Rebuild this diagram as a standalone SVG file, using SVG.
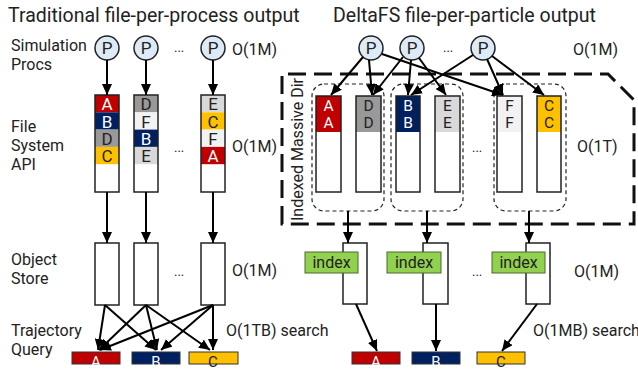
<svg xmlns="http://www.w3.org/2000/svg" width="638" height="370" viewBox="0 0 638 370">
<defs>
<marker id="ah" markerUnits="userSpaceOnUse" markerWidth="11" markerHeight="10" refX="11" refY="5" orient="auto"><path d="M0,0 L11,5 L0,10 z" fill="#000"/></marker>
<style>
text{font-family:Roboto,"Liberation Sans",sans-serif;fill:#222}
.t{font-size:19.5px}
.l{font-size:16px}
.c{font-size:17px;text-anchor:middle}
.c2{font-size:15.5px;text-anchor:middle}
.w{fill:#fff}
.p{fill:#DEEBF7;stroke:#222;stroke-width:1.5}
.col{fill:#fff;stroke:#222;stroke-width:1.5}
.cl{fill:none;stroke:#222;stroke-width:1.5}
.ar{stroke:#000;stroke-width:2;fill:none;marker-end:url(#ah)}
.grp{fill:none;stroke:#222;stroke-width:1.2;stroke-dasharray:4 3}
.idx{fill:#92D050;stroke:#4a6b2a;stroke-width:1}
.bar{stroke:#333;stroke-width:1}
.q{font-size:15px;text-anchor:middle}
</style>
</defs>
<rect width="638" height="370" fill="#fff"/>

<g id="titles">
<text class="t" x="8" y="22">Traditional file-per-process output</text>
<text class="t" x="333" y="22">DeltaFS file-per-particle output</text>
</g>

<g id="labels">
<text class="l" x="11" y="51">Simulation</text>
<text class="l" x="11" y="70">Procs</text>
<text class="l" x="11" y="132">File</text>
<text class="l" x="11" y="151">System</text>
<text class="l" x="11" y="170">API</text>
<text class="l" x="11" y="265">Object</text>
<text class="l" x="11" y="284">Store</text>
<text class="l" x="11" y="336">Trajectory</text>
<text class="l" x="11" y="355">Query</text>
<text class="l" x="232" y="55">O(1M)</text>
<text class="l" x="232" y="152">O(1M)</text>
<text class="l" x="232" y="276">O(1M)</text>
<text class="l" x="226" y="336">O(1TB) search</text>
<text class="l" x="573" y="55">O(1M)</text>
<text class="l" x="577" y="152">O(1T)</text>
<text class="l" x="574" y="277">O(1M)</text>
<text class="l" x="533" y="336">O(1MB) search</text>
<text x="174" y="52" font-size="13">...</text>
<text x="174" y="152" font-size="13">...</text>
<text x="174" y="276" font-size="13">...</text>
<text x="443" y="52" font-size="13">...</text>
<text x="472" y="152" font-size="13">...</text>
<text x="472" y="276" font-size="13">...</text>
</g>

<g id="massive-dir">
<path d="M282,224 L282,74 L608,74 L634,100 L634,224 Z" fill="none" stroke="#111" stroke-width="3" stroke-dasharray="18 8"/>
<text class="l" transform="translate(303,221) rotate(-90)">Indexed Massive Dir</text>
<rect class="grp" x="312" y="84" width="72" height="127" rx="12"/>
<rect class="grp" x="391" y="84" width="72" height="127" rx="12"/>
<rect class="grp" x="494" y="84" width="72" height="127" rx="12"/>
</g>

<g id="lp1"><circle class="p" cx="107" cy="48" r="12"/><text class="c" x="107" y="54" font-size="16">P</text></g>
<g id="lp2"><circle class="p" cx="146" cy="48" r="12"/><text class="c" x="146" y="54" font-size="16">P</text></g>
<g id="lp3"><circle class="p" cx="213" cy="48" r="12"/><text class="c" x="213" y="54" font-size="16">P</text></g>

<g id="lf1">
<rect x="95" y="95" width="24" height="17.3" fill="#C00000"/><text class="c w" x="107" y="110">A</text>
<rect x="95" y="112.3" width="24" height="17.3" fill="#002060"/><text class="c w" x="107" y="127.5">B</text>
<rect x="95" y="129.6" width="24" height="17.3" fill="#999"/><text class="c" x="107" y="144.8">D</text>
<rect x="95" y="146.9" width="24" height="17.3" fill="#FFC000"/><text class="c" x="107" y="162">C</text>
<rect class="cl" x="95" y="95" width="24" height="97"/>
</g>
<g id="lf2">
<rect x="134" y="95" width="24" height="17.3" fill="#999"/><text class="c" x="146" y="110">D</text>
<rect x="134" y="112.3" width="24" height="17.3" fill="#F2F2F2"/><text class="c" x="146" y="127.5">F</text>
<rect x="134" y="129.6" width="24" height="17.3" fill="#002060"/><text class="c w" x="146" y="144.8">B</text>
<rect x="134" y="146.9" width="24" height="17.3" fill="#D9D9D9"/><text class="c" x="146" y="162">E</text>
<rect class="cl" x="134" y="95" width="24" height="97"/>
</g>
<g id="lf3">
<rect x="201" y="95" width="24" height="17.3" fill="#D9D9D9"/><text class="c" x="213" y="110">E</text>
<rect x="201" y="112.3" width="24" height="17.3" fill="#FFC000"/><text class="c" x="213" y="127.5">C</text>
<rect x="201" y="129.6" width="24" height="17.3" fill="#F2F2F2"/><text class="c" x="213" y="144.8">F</text>
<rect x="201" y="146.9" width="24" height="17.3" fill="#C00000"/><text class="c w" x="213" y="162">A</text>
<rect class="cl" x="201" y="95" width="24" height="97"/>
</g>

<g id="lo1"><rect class="col" x="95" y="243" width="24" height="62"/></g>
<g id="lo2"><rect class="col" x="134" y="243" width="24" height="62"/></g>
<g id="lo3"><rect class="col" x="201" y="243" width="24" height="62"/></g>

<g id="lqA"><rect class="bar" x="72" y="352" width="48" height="12" fill="#C00000"/><text class="q w" x="96" y="367">A</text></g>
<g id="lqB"><rect class="bar" x="132" y="352" width="48" height="12" fill="#002060"/><text class="q w" x="156" y="367">B</text></g>
<g id="lqC"><rect class="bar" x="189" y="352" width="49" height="12" fill="#FFC000"/><text class="q" x="213" y="367">C</text></g>

<g id="rp1"><circle class="p" cx="371" cy="48" r="12"/><text class="c" x="371" y="54" font-size="16">P</text></g>
<g id="rp2"><circle class="p" cx="412" cy="48" r="12"/><text class="c" x="412" y="54" font-size="16">P</text></g>
<g id="rp3"><circle class="p" cx="483" cy="48" r="12"/><text class="c" x="483" y="54" font-size="16">P</text></g>

<g id="rfA"><rect x="316" y="96" width="25" height="36" fill="#C00000"/><text class="c2 w" x="328.5" y="111">A</text><text class="c2 w" x="328.5" y="128">A</text><rect class="cl" x="316" y="96" width="25" height="96"/></g>
<g id="rfD"><rect x="356" y="96" width="25" height="36" fill="#999"/><text class="c2" x="368.5" y="111">D</text><text class="c2" x="368.5" y="128">D</text><rect class="cl" x="356" y="96" width="25" height="96"/></g>
<g id="rfB"><rect x="396" y="96" width="24" height="36" fill="#002060"/><text class="c2 w" x="408" y="111">B</text><text class="c2 w" x="408" y="128">B</text><rect class="cl" x="396" y="96" width="24" height="96"/></g>
<g id="rfE"><rect x="435" y="96" width="25" height="36" fill="#D9D9D9"/><text class="c2" x="447.5" y="111">E</text><text class="c2" x="447.5" y="128">E</text><rect class="cl" x="435" y="96" width="25" height="96"/></g>
<g id="rfF"><rect x="497" y="96" width="25" height="36" fill="#F2F2F2"/><text class="c2" x="509.5" y="111">F</text><text class="c2" x="509.5" y="128">F</text><rect class="cl" x="497" y="96" width="25" height="96"/></g>
<g id="rfC"><rect x="537" y="96" width="24" height="36" fill="#FFC000"/><text class="c2" x="549" y="111">C</text><text class="c2" x="549" y="128">C</text><rect class="cl" x="537" y="96" width="24" height="96"/></g>

<g id="ro1"><rect class="col" x="343" y="243" width="24" height="61"/><rect class="idx" x="305" y="252" width="53" height="21"/><text class="l" x="331.5" y="268" text-anchor="middle">index</text></g>
<g id="ro2"><rect class="col" x="423" y="243" width="25" height="61"/><rect class="idx" x="387" y="252" width="54" height="21"/><text class="l" x="414" y="268" text-anchor="middle">index</text></g>
<g id="ro3"><rect class="col" x="526" y="243" width="24" height="61"/><rect class="idx" x="492" y="252" width="53" height="21"/><text class="l" x="518.5" y="268" text-anchor="middle">index</text></g>

<g id="rqA"><rect class="bar" x="352" y="352" width="48" height="12" fill="#C00000"/><text class="q w" x="376" y="367">A</text></g>
<g id="rqB"><rect class="bar" x="412" y="352" width="48" height="12" fill="#002060"/><text class="q w" x="436" y="367">B</text></g>
<g id="rqC"><rect class="bar" x="477" y="352" width="48" height="12" fill="#FFC000"/><text class="q" x="501" y="367">C</text></g>

<g id="connectors">
<line class="ar" x1="107" y1="60" x2="107" y2="95"/>
<line class="ar" x1="146" y1="60" x2="146" y2="95"/>
<line class="ar" x1="213" y1="60" x2="213" y2="95"/>
<line class="ar" x1="107" y1="192" x2="107" y2="243"/>
<line class="ar" x1="146" y1="192" x2="146" y2="243"/>
<line class="ar" x1="213" y1="192" x2="213" y2="243"/>
<line class="ar" x1="105" y1="305" x2="98" y2="350"/>
<line class="ar" x1="105" y1="305" x2="156" y2="350"/>
<line class="ar" x1="146" y1="305" x2="99" y2="350"/>
<line class="ar" x1="146" y1="305" x2="157" y2="350"/>
<line class="ar" x1="146" y1="305" x2="210" y2="350"/>
<line class="ar" x1="213" y1="305" x2="100" y2="350"/>
<line class="ar" x1="213" y1="305" x2="161" y2="350"/>
<line class="ar" x1="213" y1="305" x2="213" y2="350"/>
<line class="ar" x1="363" y1="57" x2="331" y2="95"/>
<line class="ar" x1="369" y1="60" x2="372" y2="95"/>
<line class="ar" x1="382" y1="54" x2="503" y2="95"/>
<line class="ar" x1="403" y1="57" x2="373" y2="95"/>
<line class="ar" x1="411" y1="60" x2="408" y2="95"/>
<line class="ar" x1="419" y1="58" x2="446" y2="95"/>
<line class="ar" x1="473" y1="55" x2="411" y2="95"/>
<line class="ar" x1="487" y1="59" x2="503" y2="95"/>
<line class="ar" x1="492" y1="56" x2="544" y2="95"/>
<line class="ar" x1="348" y1="211" x2="348" y2="243"/>
<line class="ar" x1="427" y1="211" x2="427" y2="243"/>
<line class="ar" x1="529" y1="211" x2="529" y2="243"/>
<line class="ar" x1="356" y1="304" x2="377" y2="351"/>
<line class="ar" x1="436" y1="304" x2="436" y2="351"/>
<line class="ar" x1="537" y1="304" x2="502" y2="351"/>
</g>
</svg>
